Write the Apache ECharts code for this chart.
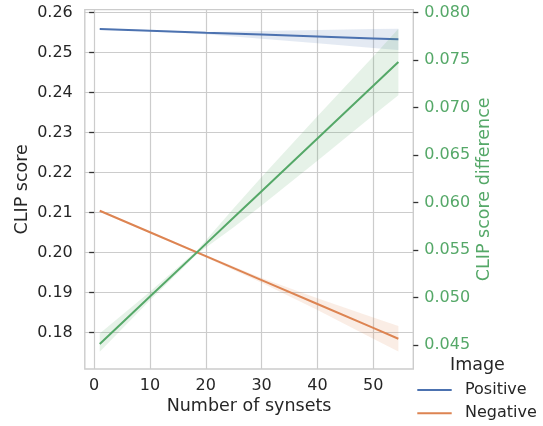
<!DOCTYPE html>
<html>
<head>
<meta charset="utf-8">
<script src="https://cdn.jsdelivr.net/npm/echarts@6/dist/echarts.min.js"></script>
<style>html,body{margin:0;padding:0;background:#fff;}#c{width:543px;height:426px;}</style>
</head>
<body>
<div id="c"></div>
<script>
// ---- data ----
const xTicks = [0, 10, 20, 30, 40, 50];
const leftTicks = [0.18, 0.19, 0.20, 0.21, 0.22, 0.23, 0.24, 0.25, 0.26];
const rightTicks = [0.045, 0.050, 0.055, 0.060, 0.065, 0.070, 0.075, 0.080];

const scoreX = [1, 10, 20, 30, 40, 50, 54.5];
const positiveLine  = [0.25593, 0.25550, 0.25501, 0.25453, 0.25405, 0.25357, 0.25335];
const positiveUpper = [0.25605, 0.25565, 0.25520, 0.25540, 0.25565, 0.25590, 0.25600];
const positiveLower = [0.25580, 0.25535, 0.25460, 0.25350, 0.25235, 0.25120, 0.25068];

const negativeLine  = [0.21050, 0.20512, 0.19914, 0.19316, 0.18718, 0.18120, 0.17850];
const negativeUpper = [0.21070, 0.20530, 0.19945, 0.19370, 0.18860, 0.18380, 0.18170];
const negativeLower = [0.21030, 0.20490, 0.19880, 0.19250, 0.18570, 0.17850, 0.17530];

const diffX     = [1, 10, 18.5, 25, 30, 40, 50, 54.5];
const diffLine  = [0.04510, 0.05010, 0.05481, 0.05842, 0.06120, 0.06675, 0.07230, 0.07481];
const diffUpper = [0.04620, 0.05060, 0.05500, 0.05940, 0.06270, 0.06910, 0.07540, 0.07830];
const diffLower = [0.04430, 0.04970, 0.05460, 0.05740, 0.05970, 0.06440, 0.06920, 0.07130];

// ---- styling ----
const BLUE = '#4c72b0', ORANGE = '#dd8452', GREEN = '#55a868';
const TXT = '#262626', GRID = '#cccccc';
const FONT = 'DejaVu Sans';

function bandSeries(name, xs, lo, up, color, yIdx, z) {
  return {
    name: name, type: 'custom', yAxisIndex: yIdx, z: z, silent: true,
    data: xs.map((x, i) => [x, lo[i], up[i]]),
    encode: { x: 0, y: [1, 2] },
    renderItem: function (params, api) {
      if (params.dataIndex !== 0) return null;
      const pts = [];
      for (let i = 0; i < xs.length; i++) pts.push(api.coord([xs[i], up[i]]));
      for (let i = xs.length - 1; i >= 0; i--) pts.push(api.coord([xs[i], lo[i]]));
      return { type: 'polygon', shape: { points: pts }, style: { fill: color, opacity: 0.15 } };
    }
  };
}
function lineSeries(name, xs, ys, color, yIdx, z) {
  return {
    name: name, type: 'line', yAxisIndex: yIdx, z: z, showSymbol: false, silent: true,
    data: xs.map((x, i) => [x, ys[i]]),
    lineStyle: { color: color, width: 2 }, itemStyle: { color: color },
    animation: false
  };
}

const chart = echarts.init(document.getElementById('c'), null, { renderer: 'canvas' });
chart.setOption({
  animation: false,
  backgroundColor: '#ffffff',
  textStyle: { fontFamily: FONT },
  grid: { left: 84.8, right: 129.7, top: 9.6, bottom: 57, show: true, borderColor: GRID, borderWidth: 1.4, backgroundColor: '#fff' },
  title: { text: 'Image', left: 450, top: 356, padding: 0,
    textStyle: { fontFamily: FONT, fontSize: 17.5, fontWeight: 'normal', color: TXT } },
  legend: {
    orient: 'vertical', left: 417.3, top: 381, padding: 0, itemGap: 5.3,
    itemWidth: 42.7, itemHeight: 2,
    textStyle: { fontFamily: FONT, fontSize: 16, color: TXT, lineHeight: 18 },
    data: [
      { name: 'Positive', icon: 'path://M0,0h34.4v2h-34.4z M42.69,0h0.01v2h-0.01z' },
      { name: 'Negative', icon: 'path://M0,0h34.4v2h-34.4z M42.69,0h0.01v2h-0.01z' }
    ]
  },
  xAxis: {
    type: 'value', min: -1.675, max: 57.175,
    name: 'Number of synsets', nameLocation: 'middle', nameGap: 28, nameMoveOverlap: false,
    nameTextStyle: { fontFamily: FONT, fontSize: 17.5, color: TXT },
    axisLine: { show: false },
    axisTick: { show: false, customValues: xTicks },
    axisLabel: { customValues: xTicks, fontFamily: FONT, fontSize: 16, color: TXT, margin: 9 },
    splitLine: { show: true, lineStyle: { color: GRID, width: 1.2 } }
  },
  yAxis: [
    {
      type: 'value', position: 'left', min: 0.17093, max: 0.26078,
      name: 'CLIP score', nameLocation: 'middle', nameGap: 53, nameRotate: 90, nameMoveOverlap: false,
      nameTextStyle: { fontFamily: FONT, fontSize: 17.5, color: TXT },
      axisLine: { show: false },
      axisTick: { show: true, customValues: leftTicks, length: 5, lineStyle: { color: '#333', width: 1.3 } },
      axisLabel: { customValues: leftTicks, fontFamily: FONT, fontSize: 16, color: TXT, margin: 12,
        formatter: v => Number(v).toFixed(2) },
      splitLine: { show: true, lineStyle: { color: GRID, width: 1.2 } }
    },
    {
      type: 'value', position: 'right', min: 0.04247, max: 0.08033,
      name: 'CLIP score difference', nameLocation: 'middle', nameGap: 62, nameRotate: 90, nameMoveOverlap: false,
      nameTextStyle: { fontFamily: FONT, fontSize: 17.5, color: GREEN },
      axisLine: { show: false },
      axisTick: { show: true, customValues: rightTicks, length: 5, lineStyle: { color: '#333', width: 1.3 } },
      axisLabel: { customValues: rightTicks, fontFamily: FONT, fontSize: 16, color: GREEN, margin: 11,
        formatter: v => Number(v).toFixed(3) },
      splitLine: { show: false }
    }
  ],
  series: [
    bandSeries('Positive band', scoreX, positiveLower, positiveUpper, BLUE, 0, 2),
    lineSeries('Positive', scoreX, positiveLine, BLUE, 0, 3),
    bandSeries('Negative band', scoreX, negativeLower, negativeUpper, ORANGE, 0, 4),
    lineSeries('Negative', scoreX, negativeLine, ORANGE, 0, 5),
    bandSeries('Difference band', diffX, diffLower, diffUpper, GREEN, 1, 6),
    lineSeries('Difference', diffX, diffLine, GREEN, 1, 7)
  ]
});
</script>
</body>
</html>
